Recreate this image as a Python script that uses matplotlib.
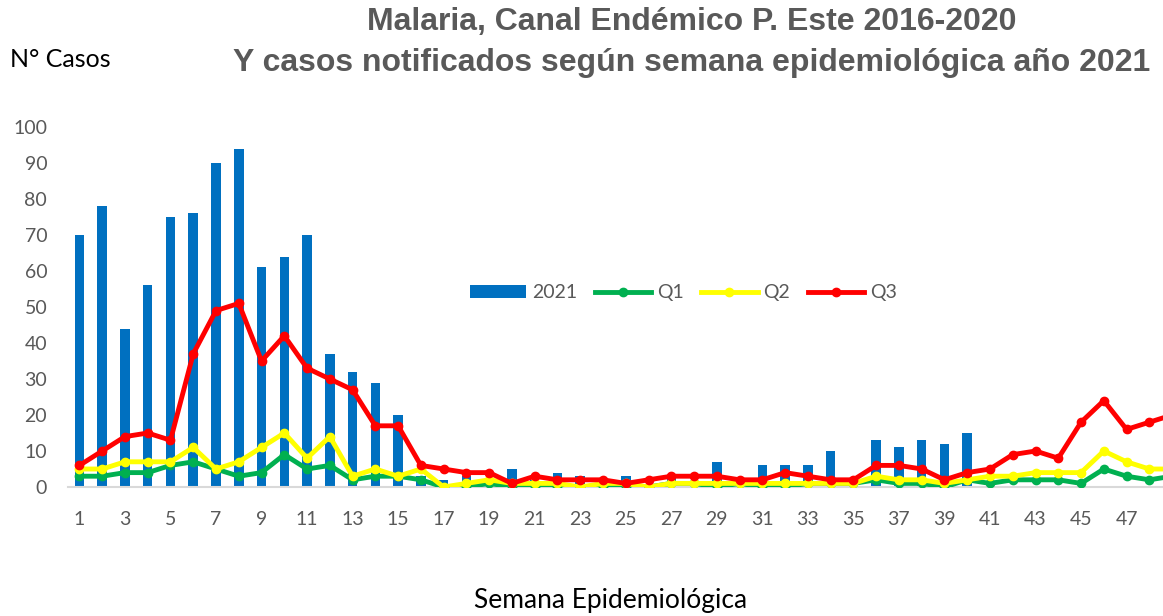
import matplotlib.pyplot as plt
import numpy as np

# semanas epidemiologicas
semanas = np.arange(1, 50)

# casos notificados 2021 (semanas 1-40)
casos_2021 = [70, 78, 44, 56, 75, 76, 90, 94, 61, 64,
              70, 37, 32, 29, 20, 3, 2, 3, 0, 5,
              2, 4, 3, 0, 3, 0, 3, 0, 7, 0,
              6, 6, 6, 10, 1, 13, 11, 13, 12, 15]

q1 = [3, 3, 4, 4, 6, 7, 5, 3, 4, 9,
      5, 6, 2, 3, 3, 2, 0, 0, 1, 0,
      0, 0, 0, 0, 0, 0, 1, 1, 0, 1,
      0, 0, 1, 1, 1, 2, 1, 1, 0, 2,
      1, 2, 2, 2, 1, 5, 3, 2, 3]

q2 = [5, 5, 7, 7, 7, 11, 5, 7, 11, 15,
      8, 14, 3, 5, 3, 5, 0, 1, 2, 1,
      1, 1, 0, 1, 1, 0, 1, 1, 1, 1,
      1, 1, 1, 1, 1, 3, 2, 2, 1, 2,
      3, 3, 4, 4, 4, 10, 7, 5, 5]

q3 = [6, 10, 14, 15, 13, 37, 49, 51, 35, 42,
      33, 30, 27, 17, 17, 6, 5, 4, 4, 1,
      3, 2, 2, 2, 1, 2, 3, 3, 3, 2,
      2, 4, 3, 2, 2, 6, 6, 5, 2, 4,
      5, 9, 10, 8, 18, 24, 16, 18, 20]

gris = "#595959"
fuente = ["Lato", "DejaVu Sans"]
plt.rcParams["font.family"] = fuente

fig = plt.figure(figsize=(11.63, 6.16), dpi=100)
ax = fig.add_axes([0.0585, 0.2094, 0.9415, 0.5844])

barras = ax.bar(semanas[:len(casos_2021)], casos_2021, width=0.42, color="#0070C0", label="2021", zorder=2)
l1, = ax.plot(semanas, q1, color="#00B050", lw=3.5, marker="o", ms=6, label="Q1", zorder=3)
l2, = ax.plot(semanas, q2, color="#FFFF00", lw=3.5, marker="o", ms=6, label="Q2", zorder=4)
l3, = ax.plot(semanas, q3, color="#FF0000", lw=3.5, marker="o", ms=6, label="Q3", zorder=5)

ax.set_xlim(0.5, 48.6)
ax.set_ylim(0, 100)
ax.set_yticks(range(0, 101, 10))
ax.set_xticks(range(1, 48, 2))
ax.tick_params(axis="both", length=0, labelsize=14, labelcolor=gris)
ax.tick_params(axis="y", pad=15)
ax.tick_params(axis="x", pad=17)
for s in ["top", "right", "left"]:
    ax.spines[s].set_visible(False)
ax.spines["bottom"].set_color("#d9d9d9")
ax.spines["bottom"].set_linewidth(1.5)

leg = ax.legend([barras, l1, l2, l3], ["2021", "Q1", "Q2", "Q3"],
                loc="center", bbox_to_anchor=(0.562, 0.539), ncol=4, frameon=False,
                fontsize=14, handlelength=2.9, handletextpad=0.3, columnspacing=0.9)
for t in leg.get_texts():
    t.set_color(gris)

titulo = ["Liberation Sans", "DejaVu Sans"]
fig.text(0.595, 0.964, "Malaria, Canal Endémico P. Este 2016-2020", ha="center", va="center",
         fontsize=23, fontweight="bold", color=gris, family=titulo)
fig.text(0.595, 0.897, "Y casos notificados según semana epidemiológica año 2021", ha="center", va="center",
         fontsize=23, fontweight="bold", color=gris, family=titulo)
fig.text(0.009, 0.903, "N° Casos", ha="left", va="center", fontsize=18, color="black")
fig.text(0.525, 0.025, "Semana Epidemiológica", ha="center", va="center", fontsize=19, color="black")

fig.savefig("out.png", dpi=100)
